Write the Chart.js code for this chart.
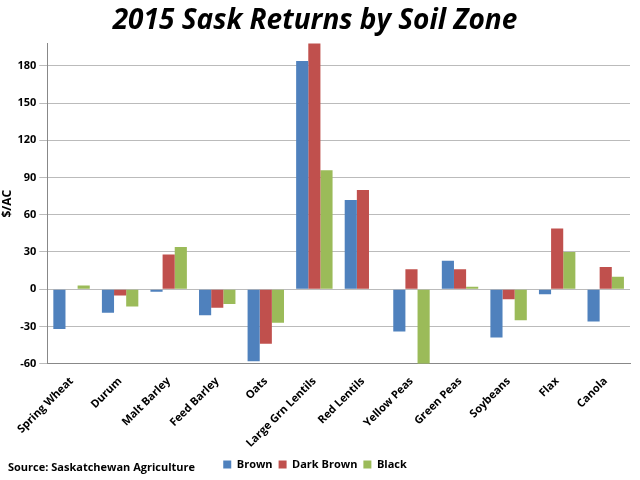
<!DOCTYPE html>
<html><head><script src="https://cdn.jsdelivr.net/npm/chart.js@4"></script>
<style>body{margin:0;background:#fff}#w{width:640px;height:480px;position:relative}
#src{position:absolute;left:8px;bottom:6px;font:bold 11px "Open Sans",sans-serif;color:#000}</style></head>
<body><div id="w"><canvas id="c" width="640" height="480"></canvas><div id="src">Source: Saskatchewan Agriculture</div></div>
<script>
const categories=["Spring Wheat","Durum","Malt Barley","Feed Barley","Oats","Large Grn Lentils","Red Lentils","Yellow Peas","Green Peas","Soybeans","Flax","Canola"];
const brown=[-32,-19,-2,-21,-58,184,72,-34,23,-39,-4,-26];
const darkBrown=[0,-5,28,-15,-44,200,80,16,16,-8,49,18];
const black=[3,-14,34,-12,-27,96,0,-60,2,-25,30,10];
new Chart(document.getElementById('c'),{type:'bar',
data:{labels:categories,datasets:[
{label:'Brown',data:brown,backgroundColor:'#4f81bd'},
{label:'Dark Brown',data:darkBrown,backgroundColor:'#c0504d'},
{label:'Black',data:black,backgroundColor:'#9bbb59'}]},
options:{responsive:false,animation:false,
layout:{padding:{left:0,right:10,top:0,bottom:0}},
datasets:{bar:{categoryPercentage:0.75,barPercentage:1}},
plugins:{title:{display:true,text:'2015 Sask Returns by Soil Zone',font:{family:'"Open Sans"',size:28,weight:'bold',style:'italic'},color:'#000',padding:{top:4,bottom:6}},
legend:{position:'bottom',labels:{boxWidth:8,boxHeight:8,padding:6,font:{family:'"Open Sans"',size:11,weight:'bold'},color:'#000'}}},
scales:{x:{grid:{display:false},border:{color:'#888'},ticks:{maxRotation:45,minRotation:45,color:'#000',font:{family:'"Open Sans"',size:11,weight:'bold'}}},
y:{min:-60,max:198,title:{display:true,text:'$/AC',padding:0,font:{family:'"Open Sans"',size:12,weight:'bold'},color:'#000'},
afterBuildTicks:s=>{s.ticks=[-60,-30,0,30,60,90,120,150,180].map(v=>({value:v}));},
grid:{color:'#bbb'},border:{color:'#888'},ticks:{color:'#000',font:{family:'"Open Sans"',size:11,weight:'bold'}}}}}});
</script></body></html>
